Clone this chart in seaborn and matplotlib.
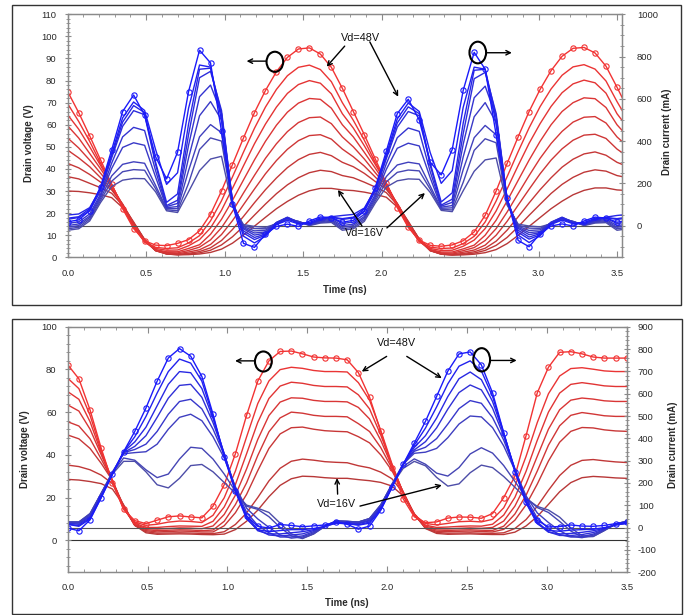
import numpy as np
import matplotlib
matplotlib.use("Agg")
import matplotlib.pyplot as plt
import seaborn as sns
from matplotlib.patches import Ellipse, Rectangle
from matplotlib.ticker import MultipleLocator

sns.set_theme(style="white")
plt.rcParams["font.family"] = ["Liberation Sans", "DejaVu Sans"]
plt.rcParams["axes.unicode_minus"] = False

# ---------------- data: time grids (ns) ----------------
time_top = np.round(np.arange(52) * 0.07, 2)
time_bot = np.round(np.arange(51) * 0.07, 2)

vd_top = [48, 44, 40, 36, 32, 28, 24, 20, 16]
vd_bot = [48, 44, 40, 36, 32, 28, 20, 16]

# ---------------- top panel: drain voltage (V) ----------------
top_red_48 = [75, 65.5, 55, 44, 33, 22, 13, 7.5, 5.5, 5.3, 6.3, 8, 12, 19.5, 30, 42, 54, 65.5, 75.5, 84, 90.5, 94.3, 94.8, 92, 86,
              76.5, 66, 55.5, 44.5, 33.5, 22.5, 13.5, 7.8, 5.4, 5, 5.6, 7.5, 11.5, 19, 30, 42.5, 54.5, 66, 76, 84.5, 91, 94.6, 95, 92.5, 86.5,
              77, 67]
top_red_44 = [69.5, 61.5, 52.5, 42.5, 33, 22.5, 13.5, 7, 4.5, 4, 4.3, 6.5, 9.8, 16.5, 25.6, 36.4, 47.6, 58.4, 68, 76, 82.2, 86, 87, 85, 79.5,
              70, 62, 53, 43, 33.5, 23, 14, 7.3, 4.6, 4, 4.2, 6.2, 9.5, 16, 25.5, 36.5, 47.8, 58.6, 68.2, 76.2, 82.4, 86.2, 87.2, 85.2, 79.8,
              70.5, 62]
top_red_40 = [64.5, 58, 50, 41.5, 33, 23, 14, 7, 4, 3.2, 3.3, 5.2, 8, 13.3, 21.3, 31.2, 41.4, 51.4, 60.3, 68, 74.2, 78.2, 80, 78.8, 74,
              65, 58.5, 50.5, 42, 33.5, 23.5, 14.3, 7.2, 4, 3.1, 3.2, 5, 7.8, 13, 21, 31, 41.5, 51.6, 60.5, 68.3, 74.5, 78.5, 80.2, 79, 74.3,
              65, 58.5]
top_red_36 = [59.5, 54, 47, 40, 32.5, 23.5, 14.5, 7, 3.5, 2.5, 2.5, 4, 5.7, 10.4, 17.2, 25.8, 35, 44.1, 52.5, 59.8, 65.7, 69.8, 71.9, 71.5, 67.5,
              60, 54.5, 47.5, 40.3, 33, 24, 14.8, 7.2, 3.5, 2.4, 2.4, 3.8, 5.5, 10, 16.8, 25.5, 34.8, 44, 52.5, 60, 66, 70, 72.2, 71.8, 67.8,
              60, 54.5]
top_red_32 = [54, 49.5, 44, 38, 32, 24, 15, 7.5, 3.3, 2.1, 2, 3.1, 4.6, 7.9, 13.4, 20.8, 29.1, 37.1, 44.8, 51.4, 56.9, 61, 63.2, 63.5, 60.5,
              54.5, 50, 44.5, 38.3, 32.3, 24.3, 15.3, 7.7, 3.3, 2, 1.9, 3, 4.4, 7.6, 13, 20.5, 28.8, 37, 44.8, 51.5, 57, 61.2, 63.4, 63.7, 60.8,
              54.5, 50]
top_red_28 = [48.5, 45, 41, 36, 31, 24, 15.5, 7.5, 3, 1.8, 1.6, 2.4, 3.4, 5.8, 10.3, 16.6, 23.8, 30.9, 37.8, 43.8, 48.9, 52.8, 55.1, 55.5, 53.5,
              49, 45.5, 41.3, 36.3, 31.3, 24.3, 15.8, 7.7, 3, 1.7, 1.5, 2.3, 3.3, 5.5, 10, 16.3, 23.6, 30.8, 37.8, 44, 49.1, 53, 55.3, 55.7, 53.8,
              49, 45.5]
top_red_24 = [42.5, 40.5, 37.5, 34, 30.5, 24, 15.5, 8, 3, 1.6, 1.3, 1.8, 2.6, 4.3, 7.6, 12.6, 18.5, 24.7, 30.6, 35.9, 40.6, 44.2, 46.6, 47.5, 46,
              43, 41, 38, 34.3, 30.8, 24.3, 15.8, 8.2, 3, 1.5, 1.2, 1.7, 2.5, 4.1, 7.3, 12.3, 18.3, 24.6, 30.6, 36, 40.8, 44.4, 46.8, 47.7, 46.2,
              43, 41]
top_red_20 = [36.5, 35.5, 33.5, 31.5, 29, 23.5, 16, 8, 3, 1.5, 1.2, 1.5, 2, 3.2, 5.6, 9.3, 14, 19.1, 24.1, 28.8, 32.8, 36, 38.3, 39.4, 38.8,
              37, 36, 34, 31.8, 29.3, 23.8, 16.3, 8.2, 3, 1.4, 1.1, 1.4, 1.9, 3.1, 5.4, 9, 13.8, 19, 24, 28.9, 33, 36.2, 38.5, 39.6, 39,
              37, 36]
top_red_16 = [30, 29.8, 29.2, 28.3, 27, 22.5, 15.5, 8, 3.2, 1.5, 1.1, 1.2, 1.5, 2.2, 3.7, 6.4, 10.1, 14.1, 18.1, 22, 25.3, 28.1, 30.1, 31.2, 31.2,
              30.5, 30.2, 29.5, 28.5, 27.2, 22.8, 15.8, 8.2, 3.2, 1.4, 1, 1.1, 1.4, 2.1, 3.5, 6.2, 9.9, 14, 18, 22, 25.4, 28.3, 30.3, 31.4, 31.4,
              30.5, 30.2]

# ---------------- top panel: drain current (mA) ----------------
top_blue_48 = [18, 27, 71, 185, 358, 540, 618, 523, 326, 221, 347, 634, 830, 770, 446, 101, -84, -103, -40, -4, 7, -4, 22, 41, 38,
               16, 25, 68, 180, 352, 530, 598, 500, 300, 240, 360, 640, 820, 740, 430, 130, -70, -100, -38, -2, 8, -2, 22, 40, 36,
               16, 25]
top_blue_44 = [35, 42, 80, 180, 340, 510, 585, 545, 360, 195, 250, 555, 760, 750, 500, 110, -50, -82, -50, 5, 25, 8, 15, 35, 40,
               33, 40, 78, 178, 335, 505, 580, 540, 345, 200, 260, 560, 750, 740, 480, 125, -45, -80, -48, 6, 26, 9, 15, 34, 38,
               33, 40]
top_blue_40 = [50, 55, 85, 175, 330, 490, 568, 535, 300, 110, 150, 480, 740, 745, 530, 115, -35, -66, -45, 10, 35, 10, 10, 30, 42,
               48, 53, 83, 172, 326, 486, 562, 530, 295, 112, 155, 485, 735, 740, 515, 125, -32, -64, -44, 11, 35, 11, 10, 30, 40,
               48, 53]
top_blue_36 = [30, 38, 70, 165, 320, 470, 544, 525, 290, 95, 120, 430, 700, 730, 545, 115, -25, -56, -40, 12, 38, 12, 8, 28, 40,
               29, 36, 68, 162, 316, 466, 540, 520, 285, 97, 125, 435, 695, 725, 530, 125, -22, -54, -38, 13, 38, 13, 8, 28, 38,
               29, 36]
top_blue_32 = [10, 18, 55, 150, 295, 420, 465, 450, 260, 90, 105, 380, 610, 665, 530, 110, -15, -45, -35, 15, 40, 15, 6, 25, 35,
               10, 17, 53, 147, 292, 416, 462, 446, 255, 92, 110, 385, 605, 660, 515, 120, -13, -43, -33, 16, 40, 16, 6, 25, 34,
               10, 17]
top_blue_28 = [0, 8, 45, 140, 270, 370, 392, 380, 230, 85, 90, 320, 520, 587, 500, 105, -10, -35, -30, 15, 38, 18, 5, 22, 30,
               0, 7, 43, 137, 266, 366, 390, 377, 226, 87, 95, 325, 515, 582, 488, 115, -8, -33, -28, 16, 38, 18, 5, 22, 29,
               0, 7]
top_blue_24 = [-8, 0, 38, 130, 235, 290, 302, 295, 190, 80, 80, 260, 420, 478, 440, 100, -5, -25, -22, 12, 35, 18, 3, 18, 25,
               -8, 0, 36, 127, 232, 287, 300, 292, 187, 82, 84, 265, 416, 474, 430, 108, -3, -23, -20, 13, 35, 18, 3, 18, 24,
               -8, 0]
top_blue_20 = [-15, -8, 30, 120, 210, 255, 265, 262, 175, 75, 70, 200, 360, 415, 400, 95, 0, -14, -15, 10, 32, 20, 2, 15, 20,
               -15, -8, 28, 117, 207, 252, 263, 259, 172, 77, 74, 205, 356, 411, 392, 102, 2, -12, -13, 11, 32, 20, 2, 15, 19,
               -15, -8]
top_blue_16 = [-22, -15, 22, 110, 185, 215, 223, 222, 160, 70, 62, 160, 260, 315, 328, 90, 5, -4, -8, 8, 28, 20, 0, 12, 15,
               -22, -15, 20, 107, 182, 212, 221, 219, 157, 72, 66, 165, 257, 311, 320, 97, 7, -2, -6, 9, 28, 20, 0, 12, 14,
               -22, -15]

# ---------------- bottom panel: drain voltage (V) ----------------
bot_red_48 = [82.2, 75.6, 61, 43, 27, 14.5, 9.2, 7.8, 9.4, 11, 11.4, 10.9, 10.5, 16, 26, 40.5, 58.5, 74.5, 84, 88.4, 88.6, 87.3, 85.8, 85.4, 85.3,
              84.5, 78.5, 67, 51, 34, 19.5, 11, 8.2, 8.6, 10.4, 10.9, 10.8, 10.3, 12.5, 20, 30, 49, 69, 81, 88, 88.3, 87.3, 85.8, 85.3, 85.3, 85.3]
bot_red_44 = [75.9, 71, 58.5, 42, 27.5, 14.5, 8.5, 7, 7.5, 8.5, 9, 8.8, 8.3, 11.7, 19.9, 32.4, 48.4, 64, 74.6, 79.9, 81, 80.5, 79.5, 79, 79,
              78.8, 73.8, 65.6, 51.4, 35.8, 21.9, 11.9, 7.9, 7.2, 7.9, 8.7, 8.9, 8.6, 9.8, 15.2, 25.3, 39.3, 55.1, 68.6, 76.9, 80.4, 80.8, 80.1, 79.3, 79, 79]
bot_red_40 = [69.6, 66, 55.5, 41, 28, 15, 8, 6, 6, 6.4, 6.7, 6.6, 6.5, 8.9, 15.6, 26.1, 40.5, 55.2, 66.4, 72.2, 74, 73.5, 72.5, 72, 72,
              71.8, 68.1, 61.5, 49.3, 35.4, 22.4, 12, 7.1, 6, 6.2, 6.5, 6.7, 6.6, 7.5, 11.8, 20.1, 32.3, 46.8, 60, 68.9, 73, 73.8, 73.1, 72.3, 72, 72]
bot_red_36 = [63.4, 60.5, 52, 40, 28, 15, 7.5, 5.5, 5.2, 5.5, 5.8, 5.7, 5.4, 6.7, 12.1, 21.1, 33.4, 47.2, 58.4, 64.7, 66.7, 66.5, 65.5, 65, 65,
              64.8, 62.2, 56.8, 46.8, 34.8, 22.4, 11.8, 6.6, 5.4, 5.3, 5.6, 5.8, 5.6, 6, 9, 16, 26.4, 39.3, 52, 61.1, 65.6, 66.6, 66.1, 65.3, 65, 65]
bot_red_32 = [55.5, 53.5, 47.5, 38, 28, 15.5, 7, 5, 4.5, 4.7, 4.9, 4.8, 4.5, 4.8, 8.9, 16.7, 26.9, 39.7, 50.8, 57.3, 60, 59.5, 58.5, 58, 58,
              57.8, 54.6, 50.9, 43.4, 33.7, 22.6, 11.8, 6.1, 4.8, 4.6, 4.8, 4.9, 4.7, 4.6, 6.6, 12.3, 21.1, 32.4, 44.5, 53.6, 58.5, 59.8, 59.1, 58.3, 58, 58]
bot_red_28 = [49.3, 47.5, 43, 36, 28, 16, 7, 4.5, 3.9, 4.1, 4.3, 4.2, 3.9, 3.9, 6.8, 12.9, 21.5, 32.6, 43, 49.8, 52.7, 53, 52, 51.3, 51,
              50.8, 48.5, 45.6, 40, 32.6, 22.8, 12.1, 5.9, 4.2, 4, 4.2, 4.3, 4.1, 3.9, 5.1, 9.4, 16.6, 26.3, 37.1, 45.9, 51, 52.8, 52.6, 51.7, 51.2, 51]
bot_red_20 = [35.2, 34.5, 33, 30.5, 26.5, 16.5, 7, 4, 3.3, 3.4, 3.5, 3.4, 3.2, 3.1, 4, 7.4, 12.8, 20, 27.8, 33.7, 37, 38, 37.5, 36.8, 36.5,
              36.3, 34.9, 33.9, 31.9, 28.8, 22.2, 12.4, 5.7, 3.7, 3.3, 3.4, 3.5, 3.3, 3.2, 3.5, 5.5, 9.7, 15.9, 23.4, 30.3, 35.1, 37.4, 37.8, 37.2, 36.7, 36.4]
bot_red_16 = [28.5, 28.2, 27.5, 26.5, 24, 16.5, 7, 3.5, 2.8, 2.9, 3, 2.9, 2.7, 2.6, 2.9, 5, 8.9, 14.1, 20.4, 25.7, 28.8, 30, 29.8, 29.3, 29,
              29, 28.4, 27.9, 27.1, 25.4, 20.8, 12.4, 5.5, 3.2, 2.8, 2.9, 3, 2.8, 2.7, 2.7, 3.8, 6.7, 11.1, 16.8, 22.7, 27, 29.3, 29.9, 29.6, 29.2, 29]

# ---------------- bottom panel: drain current (mA) ----------------
bot_blue_48 = [-2, -14, 35, 135, 240, 340, 431, 536, 656, 760, 802, 768, 677, 508, 316, 163, 53, 6, -2, 14, 10, 4, 8, 12, 26,
               15, -7, 7, 78, 180, 283, 379, 476, 588, 701, 778, 787, 729, 604, 425, 250, 116, 33, 3, 5, 12, 7, 6, 10, 18, 24]
bot_blue_44 = [15, 6, 39, 135, 240, 340, 407, 498, 603, 699, 755, 737, 656, 498, 326, 163, 39, -9, -18, -13, -9, -9, -4, 6, 20,
               18, 11, 20, 80, 180, 283, 369, 446, 541, 644, 723, 747, 702, 588, 424, 256, 110, 18, -13, -16, -11, -9, -7, 0, 12, 19]
bot_blue_40 = [15, 10, 44, 140, 240, 340, 384, 450, 546, 642, 699, 694, 623, 489, 331, 168, 44, -14, -28, -28, -23, -18, -9, 6, 20,
               18, 13, 25, 85, 183, 283, 359, 412, 491, 587, 667, 697, 663, 565, 421, 261, 115, 19, -20, -28, -26, -21, -14, -3, 12, 19]
bot_blue_36 = [20, 15, 49, 144, 240, 336, 364, 412, 494, 580, 637, 642, 584, 470, 331, 173, 53, -9, -33, -37, -33, -28, -13, 6, 25,
               22, 18, 30, 90, 185, 281, 348, 385, 447, 531, 605, 639, 617, 535, 410, 263, 121, 26, -19, -35, -35, -31, -22, -5, 14, 24]
bot_blue_32 = [20, 20, 53, 149, 245, 336, 350, 374, 431, 508, 565, 575, 532, 441, 326, 178, 68, 10, -23, -42, -42, -37, -18, 6, 25,
               22, 20, 34, 94, 190, 284, 342, 360, 399, 464, 533, 569, 557, 493, 392, 262, 131, 43, -4, -31, -42, -40, -29, -8, 14, 24]
bot_blue_28 = [25, 25, 58, 154, 250, 331, 336, 340, 374, 441, 494, 508, 479, 407, 312, 183, 87, 39, 1, -33, -47, -42, -23, 6, 30,
               28, 25, 39, 99, 195, 285, 333, 338, 355, 403, 464, 500, 496, 448, 366, 257, 142, 66, 23, -14, -39, -45, -34, -10, 16, 29]
bot_blue_20 = [25, 25, 63, 154, 245, 312, 302, 259, 224, 240, 307, 360, 355, 307, 240, 163, 96, 82, 49, 1, -37, -49, -28, 6, 30,
               28, 25, 41, 102, 193, 274, 308, 284, 244, 231, 269, 330, 358, 334, 278, 207, 134, 90, 68, 28, -15, -42, -40, -13, 16, 29]
bot_blue_16 = [25, 25, 63, 154, 240, 297, 297, 250, 192, 178, 221, 278, 283, 250, 202, 154, 101, 87, 68, 20, -28, -47, -28, 6, 30,
               28, 25, 41, 102, 191, 265, 297, 277, 225, 186, 196, 246, 280, 269, 229, 181, 131, 95, 79, 47, -1, -36, -39, -13, 16, 29]

top_red = dict(zip(vd_top, [top_red_48, top_red_44, top_red_40, top_red_36, top_red_32,
                            top_red_28, top_red_24, top_red_20, top_red_16]))
top_blue = dict(zip(vd_top, [top_blue_48, top_blue_44, top_blue_40, top_blue_36, top_blue_32,
                             top_blue_28, top_blue_24, top_blue_20, top_blue_16]))
bot_red = dict(zip(vd_bot, [bot_red_48, bot_red_44, bot_red_40, bot_red_36, bot_red_32,
                            bot_red_28, bot_red_20, bot_red_16]))
bot_blue = dict(zip(vd_bot, [bot_blue_48, bot_blue_44, bot_blue_40, bot_blue_36, bot_blue_32,
                             bot_blue_28, bot_blue_20, bot_blue_16]))


def shades(hi, lo, n):
    hi, lo = np.array(hi), np.array(lo)
    return [tuple(hi + (lo - hi) * i / (n - 1)) for i in range(n)]


RED_HI, RED_LO = (0.95, 0.20, 0.20), (0.72, 0.22, 0.22)
BLUE_HI, BLUE_LO = (0.10, 0.10, 0.98), (0.30, 0.30, 0.66)


def draw(ax, x, y, color, marked):
    kw = dict(x=x, y=y, ax=ax, color=color, linewidth=1.0,
              estimator=None, sort=False, legend=False)
    if marked:
        kw.update(marker="o", markersize=3.8, markerfacecolor="none",
                  markeredgecolor=color, markeredgewidth=0.8)
    sns.lineplot(**kw)


W, H = 690, 615
fig = plt.figure(figsize=(W / 100, H / 100), dpi=100)


def frac(x0, y0, x1, y1):
    return [x0 / W, 1 - y1 / H, (x1 - x0) / W, (y1 - y0) / H]


ax1 = fig.add_axes(frac(67.7, 14.3, 621.7, 257.3))
ax1r = ax1.twinx()
ax2 = fig.add_axes(frac(67.7, 326.7, 626.7, 572.3))
ax2r = ax2.twinx()

SP = "#8a8a8a"
TXT = "#2a2a2a"

for ax, axr, t, reds, blues, vds in [
    (ax1, ax1r, time_top, top_red, top_blue, vd_top),
    (ax2, ax2r, time_bot, bot_red, bot_blue, vd_bot),
]:
    rc = shades(RED_HI, RED_LO, len(vds))
    bc = shades(BLUE_HI, BLUE_LO, len(vds))
    for i, vd in enumerate(vds[::-1]):
        j = len(vds) - 1 - i
        draw(ax, t, reds[vd], rc[j], vd == 48)
    for i, vd in enumerate(vds[::-1]):
        j = len(vds) - 1 - i
        draw(axr, t, blues[vd], bc[j], vd == 48)
    axr.axhline(0, color="#555555", lw=0.8, zorder=0.5)
    for a in (ax, axr):
        for s in a.spines.values():
            s.set_color(SP)
            s.set_linewidth(0.9)
        a.set_xlabel("")
        a.set_ylabel("")

# limits & ticks
ax1.set_xlim(0, 3.53)
ax1.set_ylim(0, 110)
ax1r.set_ylim(-150, 1000)
ax2.set_xlim(0, 3.5)
ax2.set_ylim(-15, 100)
ax2r.set_ylim(-200, 900)
ax2.axhline(0, color="#333333", lw=0.8, zorder=0.5)

for ax in (ax1, ax2):
    ax.xaxis.set_major_locator(MultipleLocator(0.5))
    ax.xaxis.set_minor_locator(MultipleLocator(0.1))
ax1.yaxis.set_major_locator(MultipleLocator(10))
ax1.yaxis.set_minor_locator(MultipleLocator(2))
ax1r.yaxis.set_major_locator(MultipleLocator(200))
ax1r.yaxis.set_minor_locator(MultipleLocator(50))
ax2.yaxis.set_major_locator(MultipleLocator(20))
ax2.yaxis.set_minor_locator(MultipleLocator(4))
ax2r.yaxis.set_major_locator(MultipleLocator(100))
ax2r.yaxis.set_minor_locator(MultipleLocator(20))

for ax, xpad in ((ax1, 8.5), (ax2, 7.5)):
    ax.tick_params(axis="x", which="both", direction="in", top=True, bottom=True,
                   colors=SP, labelcolor=TXT, labelsize=6.8, pad=xpad)
    ax.tick_params(axis="x", which="major", length=4, width=0.8)
    ax.tick_params(axis="x", which="minor", length=2.5, width=0.6)
    ax.tick_params(axis="y", which="both", direction="inout", left=True, right=False,
                   colors=SP, labelcolor=TXT, labelsize=6.8, pad=5.5)
    ax.tick_params(axis="y", which="major", length=5, width=0.8)
    ax.tick_params(axis="y", which="minor", length=3, width=0.6)
for axr, ypad in ((ax1r, 8.5), (ax2r, 5.5)):
    axr.tick_params(axis="y", which="both", direction="inout", right=True, left=False,
                    colors=SP, labelcolor=TXT, labelsize=6.8, pad=ypad)
    axr.tick_params(axis="y", which="major", length=5, width=0.8)
    axr.tick_params(axis="y", which="minor", length=3, width=0.6)

# axis titles
lab = dict(fontsize=7, fontweight="bold", color=TXT, ha="center", va="center")
fig.text(344.7 / W, 1 - 290 / H, "Time (ns)", **lab)
fig.text(347 / W, 1 - 603.5 / H, "Time (ns)", **lab)
fig.text(29.3 / W, 1 - 143 / H, "Drain voltage (V)", rotation=90, **lab)
fig.text(25 / W, 1 - 449 / H, "Drain voltage (V)", rotation=90, **lab)
fig.text(667.3 / W, 1 - 132 / H, "Drain current (mA)", rotation=90, **lab)
fig.text(672.7 / W, 1 - 445 / H, "Drain current (mA)", rotation=90, **lab)

# annotations (positions in left-axis data coordinates)
arrow = dict(arrowstyle="->", color="black", lw=1.0, shrinkA=0, shrinkB=0, mutation_scale=8)


def annotate(axr, axl, ellipses, arrows, texts):
    tr = axl.transData
    for (cx, cy, w, h) in ellipses:
        axr.add_patch(Ellipse((cx, cy), w, h, transform=tr, fill=False,
                              ec="black", lw=1.5, zorder=20, clip_on=False))
    for (x0, y0, x1, y1) in arrows:
        axr.annotate("", xy=(x1, y1), xytext=(x0, y0), xycoords=tr, textcoords=tr,
                     arrowprops=arrow, zorder=21, annotation_clip=False)
    for (x, y, s) in texts:
        axr.text(x, y, s, transform=tr, fontsize=7.8, color="#111111",
                 ha="center", va="center", zorder=22)


annotate(ax1r, ax1,
         ellipses=[(1.32, 88.5, 0.106, 9.1), (2.613, 92.7, 0.106, 9.8)],
         arrows=[(1.265, 88.8, 1.14, 88.8), (2.67, 92.6, 2.83, 92.6),
                 (1.765, 95.6, 1.65, 86.3), (1.925, 97.5, 2.106, 72.7),
                 (1.875, 14.2, 1.722, 30.5), (2.034, 13.3, 2.276, 29.1)],
         texts=[(1.868, 99.3, "Vd=48V"), (1.894, 11.0, "Vd=16V")])

annotate(ax2r, ax2,
         ellipses=[(1.225, 83.7, 0.105, 9.4), (2.592, 84.5, 0.105, 10.9)],
         arrows=[(1.173, 84.0, 1.048, 84.0), (2.644, 84.2, 2.811, 84.2),
                 (1.997, 86.1, 1.841, 79.0), (2.123, 86.1, 2.342, 75.9),
                 (1.69, 21.6, 1.686, 29.1), (1.83, 16.0, 2.342, 25.8)],
         texts=[(2.056, 92.3, "Vd=48V"), (1.683, 16.9, "Vd=16V")])

# panel frames
fig.add_artist(Rectangle((12 / W, 1 - 305 / H), 669 / W, 300 / H, transform=fig.transFigure,
                         fill=False, ec="#333333", lw=1.0))
fig.add_artist(Rectangle((12 / W, 1 - 614 / H), 670 / W, 295 / H, transform=fig.transFigure,
                         fill=False, ec="#333333", lw=1.0))

fig.savefig("out.png", dpi=100)
